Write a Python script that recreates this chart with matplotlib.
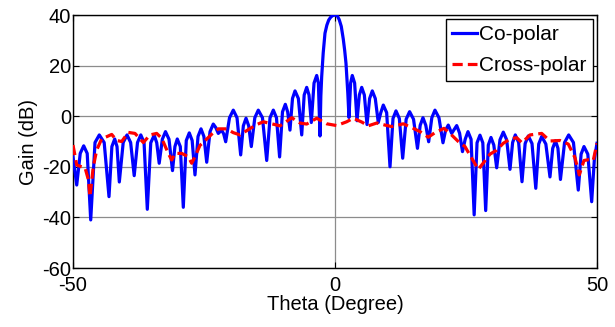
import matplotlib
matplotlib.use("Agg")
import matplotlib.pyplot as plt

plt.rcParams['font.family'] = ['Liberation Sans', 'DejaVu Sans']
plt.rcParams['axes.unicode_minus'] = False

# co-polar pattern, theta in degrees, gain in dB
co_theta = [
    -50.0, -49.29,
    -48.62, -47.96, -47.29, -46.62,
    -45.80, -44.98, -44.05, -43.13,
    -42.58, -42.04, -41.60, -41.16,
    -40.42, -39.69, -39.00, -38.32,
    -37.69, -37.06, -36.44, -35.82,
    -35.16, -34.50, -34.02, -33.55,
    -32.95, -32.35, -31.68, -31.01,
    -30.55, -30.10, -29.52, -28.95,
    -28.38, -27.81, -27.26, -26.72,
    -26.14, -25.57, -25.02, -24.48,
    -23.85, -23.23, -22.75, -22.27,
    -21.62, -21.24, -20.86,
    -20.13, -19.41, -18.70, -18.00,
    -17.49, -16.98, -16.47, -15.97,
    -15.30, -14.64, -13.84, -13.03,
    -12.40, -11.77, -11.17, -10.57,
    -10.02, -9.48, -9.03, -8.59,
    -8.11, -7.63, -6.99, -6.35,
    -5.88, -5.40, -4.96, -4.52,
    -4.00, -3.49, -3.17, -2.86,
    -2.70, -2.54, -2.25, -1.91, -1.55, -1.20, -0.80, -0.40, 0.0,
    0.40, 0.80, 1.20, 1.58, 1.85, 2.10, 2.45, 2.67,
    2.98, 3.30, 3.75, 4.20,
    4.65, 5.10, 5.60, 6.11,
    6.61, 7.12, 7.69, 8.26,
    8.74, 9.22, 9.86, 10.50,
    11.07, 11.64, 12.28, 12.92,
    13.58, 14.24, 14.99, 15.74,
    16.26, 16.79, 17.33, 17.88,
    18.48, 19.08, 19.84, 20.61,
    21.11, 21.62, 22.27,
    23.23, 23.78, 24.33,
    24.85, 25.38, 25.97, 26.56,
    27.11, 27.67, 28.21, 28.76,
    29.26, 29.77, 30.31, 30.86,
    31.49, 32.12, 32.76, 33.40,
    33.90, 34.41, 35.05, 35.69,
    36.29, 36.89, 37.60, 38.32,
    38.88, 39.45, 40.24, 41.03,
    41.55, 42.08, 42.55, 43.03,
    43.81, 44.60, 45.51, 46.43,
    46.97, 47.52, 48.25, 48.99,
    49.50, 50.0,
]
co_gain = [
    -16.0, -27.2,
    -14.7, -11.7, -14.7, -41.0,
    -10.4, -7.4, -10.4, -31.8,
    -12.0, -9.0, -12.0, -26.0,
    -10.4, -7.4, -10.4, -23.5,
    -10.4, -7.4, -10.4, -36.8,
    -10.5, -7.5, -10.5, -18.6,
    -9.1, -6.1, -9.1, -21.5,
    -12.0, -9.0, -12.0, -36.0,
    -9.6, -6.6, -9.6, -23.2,
    -8.0, -5.0, -8.0, -18.2,
    -6.1, -3.1, -4.5, -6.8,
    -5.5, -7.0, -10.1,
    -0.6, 2.4, -0.6, -15.3,
    -3.8, -0.8, -3.8, -12.0,
    -0.6, 2.4, -0.6, -17.5,
    -0.6, 2.4, -0.6, -16.1,
    1.7, 4.7, 1.7, -5.5,
    7.0, 10.0, 7.0, -7.4,
    8.4, 11.4, 8.4, -2.5,
    13.1, 16.1, 13.1, -7.8,
    8.0, 15.6, 25.0, 32.8, 36.0, 38.0, 39.2, 39.8, 40.0,
    39.8, 38.2, 35.5, 30.5, 26.0, 20.9, 9.0, -0.5,
    13.1, 16.1, 13.1, -1.8,
    8.4, 11.4, 8.4, -3.3,
    7.0, 10.0, 7.0, -2.5,
    1.4, 4.4, 1.4, -20.0,
    -0.9, 2.1, -0.9, -16.6,
    -1.2, 1.8, -1.2, -12.7,
    -3.6, -0.6, -3.6, -10.1,
    -0.6, 2.4, -0.6, -10.5,
    -5.5, -3.5, -6.8,
    -3.7, -6.7, -14.0,
    -9.1, -6.1, -9.1, -39.0,
    -10.5, -7.5, -10.5, -37.3,
    -11.4, -8.4, -11.4, -20.4,
    -9.3, -6.3, -9.3, -21.0,
    -10.4, -7.4, -10.4, -25.9,
    -10.8, -7.8, -10.8, -28.5,
    -11.0, -8.0, -11.0, -24.0,
    -12.7, -9.7, -12.7, -25.0,
    -10.4, -7.4, -10.4, -29.2,
    -15.0, -12.0, -15.0, -33.8,
    -17.0, -10.7,
]

# cross-polar pattern
cx_theta = [
    -50.0, -49.29, -48.34, -47.71, -47.08, -46.76, -46.13, -45.48, -44.52, -43.57,
    -42.61, -41.66, -40.71, -39.45, -38.17, -36.58, -35.31, -34.03, -33.07, -31.81,
    -31.16, -30.53, -29.26, -28.00, -27.35, -26.72, -25.76, -24.81, -23.53, -22.27,
    -20.67, -19.41, -18.13, -16.55, -14.94, -13.68, -12.08, -10.50, -9.54, -8.26,
    -6.68, -5.40, -3.49, -1.58, 0.32, 2.23, 3.49, 5.10, 6.35, 7.96,
    9.54, 10.82, 13.03, 14.94, 16.22, 17.81, 19.08, 20.80, 21.95, 23.53,
    24.81, 26.09, 27.35, 28.30, 29.58, 30.86, 32.12, 33.40, 34.68, 35.69,
    37.21, 39.45, 41.03, 42.94, 44.52, 45.80, 46.62, 47.52, 48.34, 49.29,
    50.0,
]
cx_gain = [
    -11.4, -19.3, -20.0, -20.3, -25.0, -31.8, -20.0, -13.4, -8.9, -8.1,
    -7.2, -9.6, -10.0, -6.4, -6.8, -10.4, -7.4, -6.8, -8.7, -14.7,
    -17.3, -14.7, -14.7, -16.0, -18.6, -16.0, -11.5, -9.7, -7.1, -5.0,
    -5.0, -6.5, -7.4, -5.3, -3.3, -2.2, -3.0, -3.8, -2.5, -0.6,
    -2.7, -3.1, -0.8, -3.0, -3.7, -2.2, -0.8, -2.3, -3.8, -2.7,
    -3.5, -4.1, -3.0, -4.8, -6.1, -8.3, -6.5, -4.8, -6.8, -10.0,
    -12.0, -16.6, -21.0, -18.5, -15.0, -13.4, -10.7, -9.0, -8.5, -10.5,
    -7.4, -6.8, -9.8, -9.6, -11.0, -16.4, -23.2, -17.5, -17.2, -17.5,
    -10.7,
]

x_ticks = [-50, 0, 50]
y_ticks = [-60, -40, -20, 0, 20, 40]

fig = plt.figure(figsize=(6.15, 3.27), dpi=100)
ax = fig.add_axes([0.1187, 0.1804, 0.852, 0.7737])

ax.plot(co_theta, co_gain, color='#0000ff', lw=2.3, label='Co-polar', zorder=3)
ax.plot(cx_theta, cx_gain, color='#ff0000', lw=2.3, ls=(0, (3.2, 1.6)),
        label='Cross-polar', zorder=4)

ax.set_xlim(-50, 50)
ax.set_ylim(-60, 40)
ax.set_xticks(x_ticks)
ax.set_yticks(y_ticks)
ax.grid(True, color='0.55', lw=0.9)
ax.set_axisbelow(True)

ax.tick_params(direction='in', length=4, width=0.8, top=True, right=True,
               labelsize=14.5)
ax.tick_params(axis='y', pad=1.5)
ax.tick_params(axis='x', pad=6)
for s in ax.spines.values():
    s.set_linewidth(1.0)
    s.set_color('black')

ax.set_xlabel('Theta (Degree)', fontsize=14.5, labelpad=0)
ax.set_ylabel('Gain (dB)', fontsize=14.5, labelpad=3)

leg = ax.legend(loc='upper right', fontsize=15, handlelength=1.2,
                handletextpad=0.1, borderpad=0.3, labelspacing=0.55,
                borderaxespad=0.2, fancybox=False, framealpha=1)
leg.get_frame().set_edgecolor('black')
leg.get_frame().set_linewidth(1.0)

fig.savefig('out.png', dpi=100)
